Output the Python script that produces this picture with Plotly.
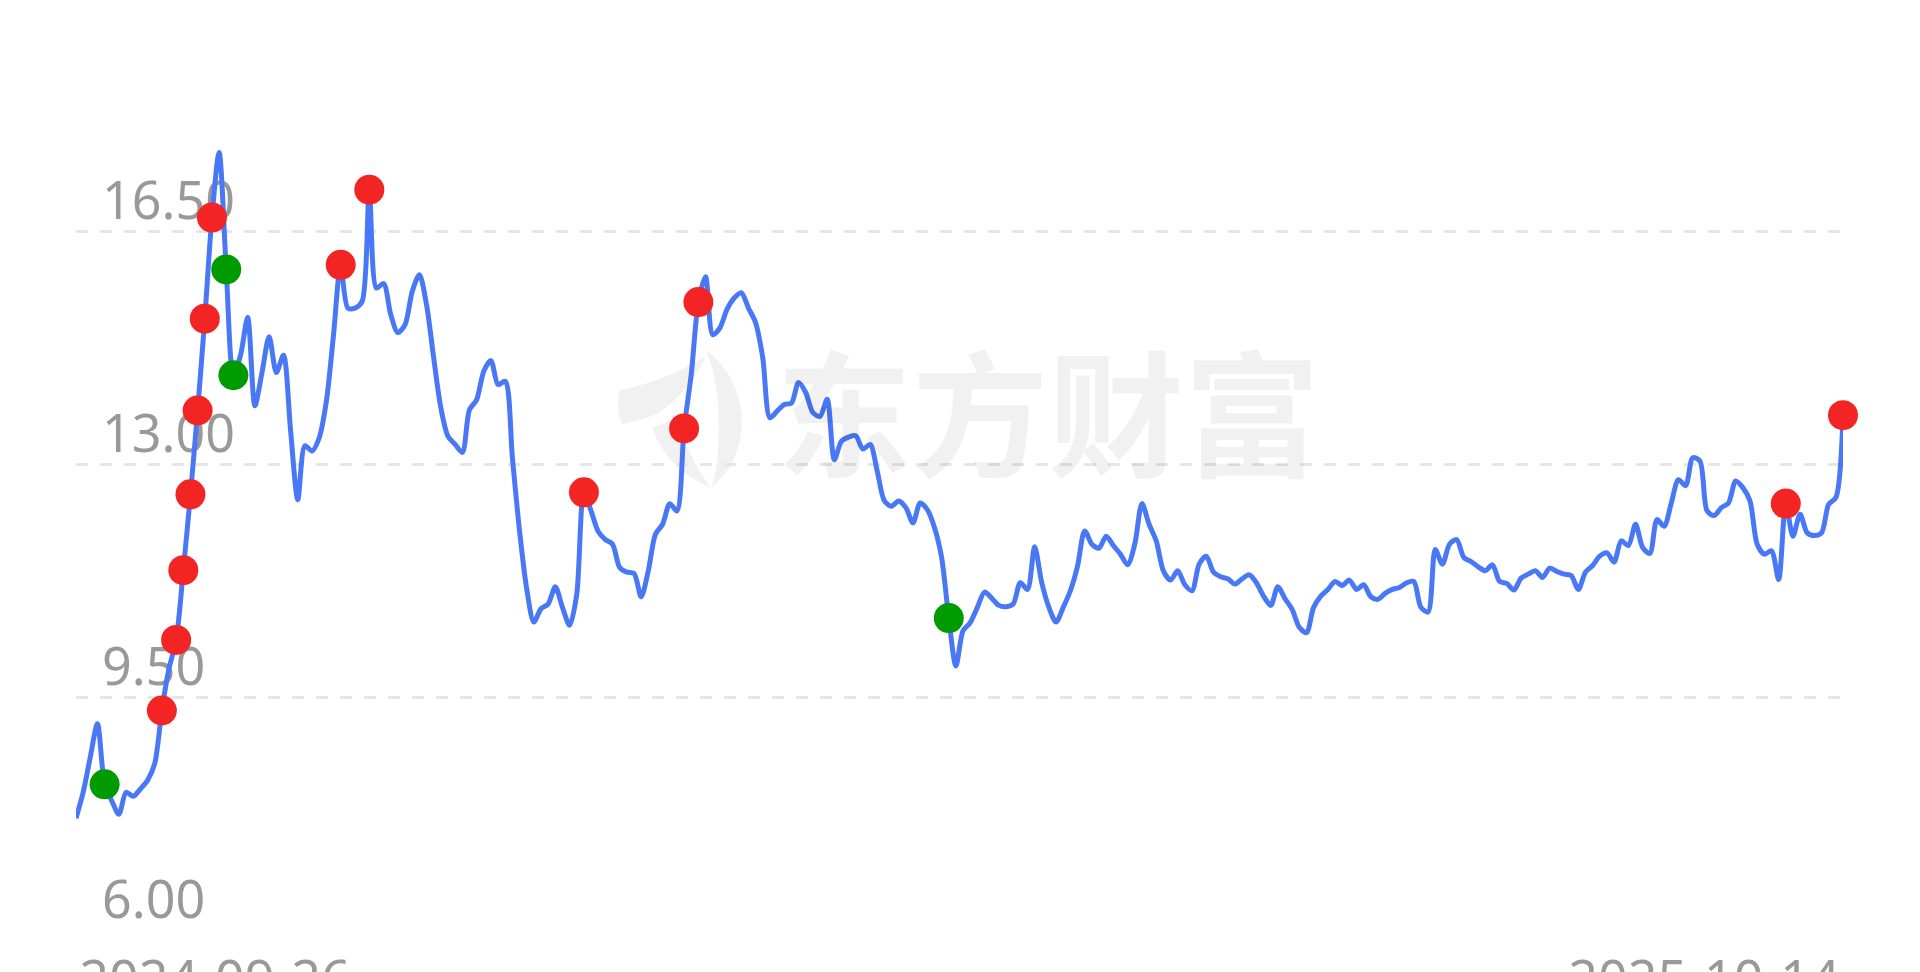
import plotly.graph_objects as go

# daily close, trading-day index 0..247 (2024-09-26 .. 2025-10-14)
close = [
    7.68, 8.07, 8.60, 9.10, 8.19, 7.94, 7.74, 8.07, 8.01, 8.12,
    8.25, 8.50, 9.30, 9.93, 10.36, 11.41, 12.55, 13.81, 15.19, 16.71,
    17.69, 15.93, 14.34, 14.64, 15.21, 13.88, 14.38, 14.92, 14.38, 14.64,
    13.50, 12.47, 13.28, 13.20, 13.40, 13.95, 14.95, 16.00, 15.35, 15.35,
    15.45, 17.13, 15.65, 15.72, 15.25, 14.98, 15.10, 15.60, 15.85, 15.40,
    14.60, 13.85, 13.42, 13.30, 13.18, 13.82, 13.97, 14.40, 14.56, 14.20,
    14.25, 13.10, 12.00, 11.13, 10.63, 10.83, 10.90, 11.16, 10.85, 10.58,
    11.05, 12.58, 12.30, 11.99, 11.87, 11.80, 11.45, 11.38, 11.36, 11.01,
    11.40, 11.95, 12.10, 12.41, 12.30, 13.54, 14.35, 15.44, 15.82, 14.95,
    15.05, 15.33, 15.50, 15.58, 15.35, 15.13, 14.60, 13.70, 13.80, 13.90,
    13.92, 14.23, 14.08, 13.78, 13.72, 13.98, 13.07, 13.35, 13.41, 13.43,
    13.23, 13.30, 12.90, 12.45, 12.37, 12.45, 12.35, 12.12, 12.42, 12.32,
    12.05, 11.60, 10.69, 9.97, 10.50, 10.62, 10.85, 11.08, 10.99, 10.88,
    10.86, 10.90, 11.22, 11.12, 11.76, 11.22, 10.85, 10.63, 10.85, 11.10,
    11.47, 12.00, 11.80, 11.74, 11.92, 11.78, 11.65, 11.49, 11.80, 12.41,
    12.10, 11.85, 11.40, 11.26, 11.40, 11.19, 11.10, 11.50, 11.62, 11.38,
    11.31, 11.28, 11.20, 11.28, 11.34, 11.22, 11.02, 10.88, 11.16, 10.98,
    10.82, 10.55, 10.47, 10.85, 11.02, 11.12, 11.24, 11.18, 11.26, 11.12,
    11.19, 11.01, 10.97, 11.06, 11.12, 11.15, 11.22, 11.24, 10.85, 10.78,
    11.72, 11.50, 11.80, 11.87, 11.60, 11.54, 11.46, 11.40, 11.49, 11.24,
    11.21, 11.11, 11.29, 11.35, 11.40, 11.30, 11.44, 11.39, 11.35, 11.33,
    11.12, 11.38, 11.48, 11.62, 11.67, 11.53, 11.85, 11.78, 12.10, 11.75,
    11.66, 12.17, 12.07, 12.42, 12.77, 12.68, 13.10, 13.05, 12.30, 12.23,
    12.35, 12.42, 12.75, 12.65, 12.45, 11.80, 11.65, 11.70, 11.27, 12.41,
    11.92, 12.25, 11.97, 11.93, 11.97, 12.40, 12.50, 13.74,
]
days = list(range(len(close)))

red_days = [12, 14, 15, 16, 17, 18, 19, 37, 41, 71, 85, 87, 239, 247]
green_days = [4, 21, 22, 122]

y_ticks = [6.0, 9.5, 13.0, 16.5]
y_labels = ["6.00", "9.50", "13.00", "16.50"]
start_label = "2024-09-26"
end_label = "2025-10-14"

W, H = 1920, 972
M = dict(l=76, r=77, t=32, b=42)
Y_RANGE = [6.0, 19.5]
X_RANGE = [0, len(close) - 1]
GRAY = "#999999"
FONT = "Noto Sans"
TICKFONT = dict(family=FONT, color=GRAY, size=52)
WATERMARK = "rgba(0,0,0,0.055)"
DATE_SHIFT = 139  # half a date label, so the labels sit flush with the plot ends


def px_path(points):
    # watermark logo outline given in page pixels -> paper coords
    pw, ph = W - M["l"] - M["r"], H - M["t"] - M["b"]
    out = []
    for cmd, pts in points:
        xy = " ".join(f"{(x - M['l']) / pw:.4f},{(H - M['b'] - y) / ph:.4f}" for x, y in pts)
        out.append(f"{cmd}{xy}")
    return " ".join(out) + " Z"


fig = go.Figure()

fig.add_trace(go.Scatter(
    x=days, y=close, mode="lines",
    line=dict(color="#4878f6", width=5, shape="spline", smoothing=0.8),
    hoverinfo="skip", showlegend=False,
))
fig.add_trace(go.Scatter(
    x=red_days, y=[close[d] for d in red_days], mode="markers", yaxis="y2",
    marker=dict(color="#f22424", size=30), cliponaxis=False,
    hoverinfo="skip", showlegend=False,
))
fig.add_trace(go.Scatter(
    x=green_days, y=[close[d] for d in green_days], mode="markers", yaxis="y2",
    marker=dict(color="#009b00", size=30), cliponaxis=False,
    hoverinfo="skip", showlegend=False,
))
# empty traces so the two date axes (anchored to the label-free y2) get drawn
fig.add_trace(go.Scatter(x=[], y=[], xaxis="x2", yaxis="y2", showlegend=False))
fig.add_trace(go.Scatter(x=[], y=[], xaxis="x3", yaxis="y2", showlegend=False))

# faint watermark
fig.add_annotation(
    text="东方财富", x=0.55, y=0.582, xref="paper", yref="paper",
    showarrow=False,
    font=dict(family="Noto Sans CJK SC", size=136, color=WATERMARK, weight="bold"),
)
logo = [
    [("M", [(706, 350)]), ("C", [(753, 385), (753, 455), (712, 487)]),
     ("C", [(722, 455), (722, 385), (706, 350)])],
    [("M", [(620, 390)]), ("Q", [(663, 382), (706, 356)]),
     ("Q", [(690, 392), (657, 414)]), ("Q", [(640, 421), (622, 424)]),
     ("Q", [(615, 406), (620, 390)])],
    [("M", [(652, 428)]), ("Q", [(668, 470), (711, 488)]),
     ("Q", [(690, 460), (676, 418)])],
]
for part in logo:
    fig.add_shape(type="path", path=px_path(part), xref="paper", yref="paper",
                  fillcolor=WATERMARK, line_width=0, layer="below")

date_axis = dict(
    range=X_RANGE, tickfont=TICKFONT, ticklabeloverflow="allow",
    ticklabelstandoff=15, automargin=False,
    showgrid=False, zeroline=False, showline=False, ticks="",
)

fig.update_layout(
    width=W, height=H,
    margin=M,
    paper_bgcolor="white", plot_bgcolor="white",
    font=dict(family=FONT, color=GRAY, size=52),
    xaxis=dict(date_axis, showticklabels=False),
    xaxis2=dict(date_axis, tickvals=[X_RANGE[1]], ticktext=[end_label],
                ticklabelshift=-DATE_SHIFT, overlaying="x", anchor="y2", side="bottom"),
    xaxis3=dict(date_axis, tickvals=[X_RANGE[0]], ticktext=[start_label],
                ticklabelshift=DATE_SHIFT, overlaying="x", anchor="y2", side="bottom"),
    yaxis=dict(
        range=Y_RANGE, tickvals=y_ticks, ticktext=y_labels, tickfont=TICKFONT,
        ticklabelposition="inside top", ticklabelstandoff=23, ticklabelshift=6,
        ticklabeloverflow="allow", automargin=False,
        showgrid=False, zeroline=False, showline=False, ticks="",
        layer="below traces",
    ),
    yaxis2=dict(
        range=Y_RANGE, overlaying="y", side="left", automargin=False,
        tickvals=y_ticks[1:], showticklabels=False,
        showgrid=True, gridcolor="#e6e6e6", gridwidth=3, griddash="12px,12px",
        zeroline=False, showline=False, ticks="",
    ),
)

# drop the default page margin so the figure sits at the window corner
fig.write_html("out.html", config={"displayModeBar": False},
               post_script="document.body.style.margin='0';")
